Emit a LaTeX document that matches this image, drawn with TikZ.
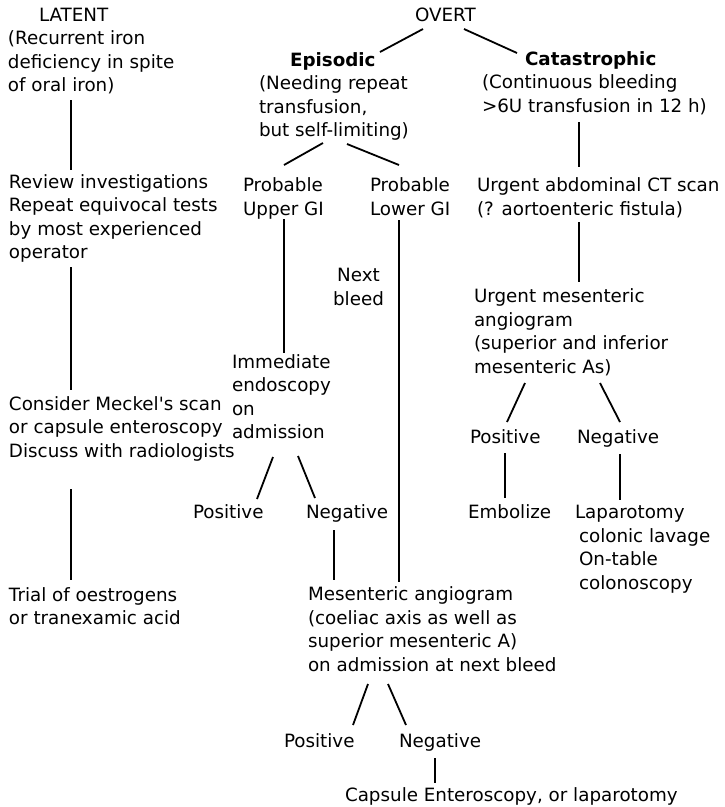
\documentclass[tikz,border=0pt]{standalone}
\usepackage{fontspec}
\newfontfamily\diagfont{DejaVu Sans}
\usetikzlibrary{calc}
\newcommand\lnsl[1]{\begin{tabular}[t]{@{}l@{}}#1\end{tabular}}
\newcommand\lnsc[1]{\begin{tabular}[t]{@{}c@{}}#1\end{tabular}}
\begin{document}
\begin{tikzpicture}[x=1pt,y=-1pt,
  txt/.style={anchor=base west, inner sep=0pt, outer sep=0pt, font=\diagfont\fontsize{18.3}{23.5}\selectfont},
  ctxt/.style={txt, anchor=base},
  hd/.style={txt, font=\diagfont\fontsize{18.3}{23.5}\selectfont\bfseries},
  link/.style={line width=1.8pt}]
\useasboundingbox (0,0) rectangle (724,807);
% left column
\node[txt] (latent) at (39,21.3) {LATENT};
\node[txt] (latentd) at (8,44.5) {\lnsl{(Recurrent iron\\deficiency in spite\\of oral iron)}};
\node[txt] (review) at (9,188) {\lnsl{Review investigations\\Repeat equivocal tests\\by most experienced\\operator}};
\node[txt] (meckel) at (9,410) {\lnsl{Consider Meckel's scan\\or capsule enteroscopy\\Discuss with radiologists}};
\node[txt] (trial) at (9,601) {\lnsl{Trial of oestrogens\\or tranexamic acid}};
% overt
\node[txt] (overt) at (415,21.3) {OVERT};
\node[hd] (episodic) at (290,66.5) {Episodic};
\node[txt] (episodicd) at (259,89.5) {\lnsl{(Needing repeat\\transfusion,\\but self-limiting)}};
\node[hd] (catastrophic) at (525,65) {Catastrophic};
\node[txt] (catd) at (482,88.5) {\lnsl{(Continuous bleeding\\>6U transfusion in 12 h)}};
\node[txt] (upper) at (243,191.5) {\lnsl{Probable\\Upper GI}};
\node[txt] (lower) at (370,191.5) {\lnsl{Probable\\Lower GI}};
\node[txt] (ct) at (477,191.5) {\lnsl{Urgent abdominal CT scan\\(? aortoenteric fistula)}};
\node[ctxt] (next) at (358.5,281.5) {\lnsc{Next\\bleed}};
\node[txt] (immediate) at (232,368) {\lnsl{Immediate\\endoscopy\\on\\admission}};
\node[txt] (positive1) at (193,518.5) {Positive};
\node[txt] (negative1) at (306,518.5) {Negative};
\node[txt] (mesang) at (308,600.5) {\lnsl{Mesenteric angiogram\\(coeliac axis as well as\\superior mesenteric A)\\on admission at next bleed}};
\node[txt] (positive2) at (284,747.5) {Positive};
\node[txt] (negative2) at (399,747.5) {Negative};
\node[txt] (capsule) at (345,801.5) {Capsule Enteroscopy, or laparotomy};
\node[txt] (urgmes) at (474,302.5) {\lnsl{Urgent mesenteric\\angiogram\\(superior and inferior\\mesenteric As)}};
\node[txt] (positive3) at (470,443.5) {Positive};
\node[txt] (negative3) at (577,443.5) {Negative};
\node[txt] (embolize) at (468,518.5) {Embolize};
\node[txt] (lapar) at (575,518.5) {\lnsl{Laparotomy\\\hspace*{4pt}colonic lavage\\\hspace*{4pt}On-table\\\hspace*{4pt}colonoscopy}};
% connectors
\draw[link] ($(latentd.base west)+(63,55.5)$) -- ($(review.base west)+(62,-18)$);
\draw[link] ($(review.base west)+(62,79)$) -- ($(meckel.base west)+(62,-20)$);
\draw[link] ($(meckel.base west)+(62,79)$) -- ($(trial.base west)+(62,-21)$);
\draw[link] ($(overt.base west)+(8,7.7)$) -- ($(episodic.base west)+(90,-14.5)$);
\draw[link] ($(overt.base west)+(49,7.7)$) -- ($(catastrophic.base west)+(-8,-12)$);
\draw[link] ($(episodicd.base west)+(64,53.5)$) -- ($(upper.base west)+(41,-26.5)$);
\draw[link] ($(episodicd.base west)+(88,54.5)$) -- ($(lower.base west)+(29,-26.5)$);
\draw[link] ($(catd.base west)+(97,33.5)$) -- ($(ct.base west)+(102,-24.5)$);
\draw[link] ($(upper.base west)+(41,27.5)$) -- ($(immediate.base west)+(52,-15)$);
\draw[link] ($(lower.base west)+(29,28.5)$) -- ($(mesang.base west)+(91,-18.5)$);
\draw[link] ($(ct.base west)+(102,30.5)$) -- ($(urgmes.base west)+(105,-20.5)$);
\draw[link] ($(immediate.base west)+(41,89)$) -- ($(positive1.base west)+(64,-19.5)$);
\draw[link] ($(immediate.base west)+(66,88)$) -- ($(negative1.base west)+(9,-20.5)$);
\draw[link] ($(negative1.base west)+(28,11.5)$) -- ($(mesang.base west)+(26,-20.5)$);
\draw[link] ($(mesang.base west)+(60,83.5)$) -- ($(positive2.base west)+(69,-22.5)$);
\draw[link] ($(mesang.base west)+(80,83.5)$) -- ($(negative2.base west)+(7,-22.5)$);
\draw[link] ($(negative2.base west)+(36,10.5)$) -- ($(capsule.base west)+(90,-18.5)$);
\draw[link] ($(urgmes.base west)+(51,80.5)$) -- ($(positive3.base west)+(37,-21.5)$);
\draw[link] ($(urgmes.base west)+(126,80.5)$) -- ($(negative3.base west)+(43,-21.5)$);
\draw[link] ($(positive3.base west)+(35,9.5)$) -- ($(embolize.base west)+(37,-20.5)$);
\draw[link] ($(negative3.base west)+(43,10.5)$) -- ($(lapar.base west)+(45,-18.5)$);
\end{tikzpicture}
\end{document}
